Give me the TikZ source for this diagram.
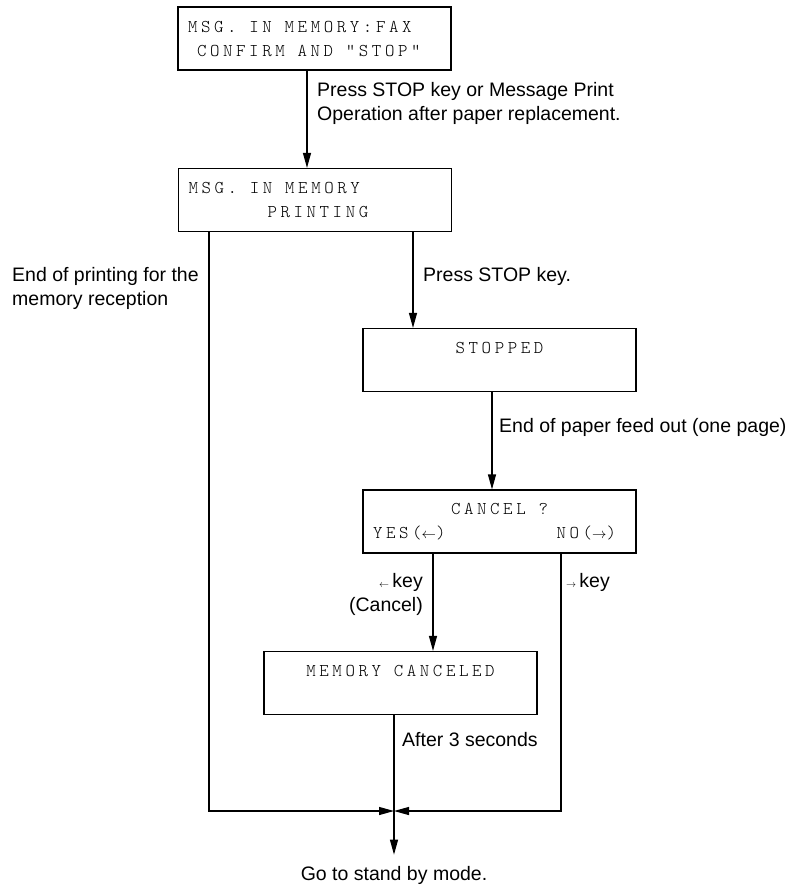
\documentclass[tikz,border=0pt]{standalone}
\usepackage{fontspec}
\setmainfont{Liberation Sans}
\newfontfamily\lcdfont{lmmonolt10-regular.otf}[LetterSpace=20]
\usetikzlibrary{arrows.meta}
\newcommand\lar{{\fontsize{10}{10}\selectfont$\leftarrow$}}
\newcommand\rar{{\fontsize{10}{10}\selectfont$\rightarrow$}}
\newcommand\lcdlar{{\fontsize{14}{14}\selectfont$\leftarrow$}}
\newcommand\lcdrar{{\fontsize{14}{14}\selectfont$\rightarrow$}}
\newcommand\lsp{\hspace*{12.8pt}}
\tikzset{
  lcdbox/.style={draw, line width=1.2pt, minimum width=273pt, minimum height=63pt,
    inner xsep=10pt, text width=253pt, font=\fontsize{18}{24}\lcdfont},
  note/.style={font=\fontsize{19.5}{24}\selectfont, inner sep=0pt},
  flow/.style={line width=1.2pt, -{Triangle[length=15pt,width=8pt]}}
}
\begin{document}
\begin{tikzpicture}[x=1pt,y=-1pt]
  \useasboundingbox (0,0) rectangle (793,887);
  % display boxes
  \node[lcdbox, align=left]   (msgfax)   at (314.5,38.5) {MSG.\lsp IN\lsp MEMORY:FAX\\\hspace*{9pt}CONFIRM\lsp AND\lsp "STOP"};
  \node[lcdbox, align=left]   (printing) at (315,200)    {MSG.\lsp IN\lsp MEMORY\\\hspace*{79pt}PRINTING};
  \node[lcdbox, align=center] (stopped)  at (499.5,360)  {STOPPED\\~};
  \node[lcdbox, align=center] (cancel)   at (499.5,521.5) {CANCEL\lsp ?\\\hbox to 253pt{YES(\lcdlar)\hfill NO(\lcdrar)\hspace{10pt}}};
  \node[lcdbox, align=center] (canceled) at (400.5,683)  {MEMORY\lsp CANCELED\\~};
  \coordinate (merge) at (394,811);
  \node[note, anchor=base, inner ysep=11pt] (standby) at (394,880) {Go to stand by mode.};
  % labels
  \node[note, anchor=west, align=left]  (presskey) at (317,103.5) {Press STOP key or Message Print\\Operation after paper replacement.};
  \node[note, anchor=west, align=left]  (endprint) at (12,288)    {End of printing for the\\memory reception};
  \node[note, anchor=west]              (pressstop) at (423,276)  {Press STOP key.};
  \node[note, anchor=west]              (feedout)  at (499,427)   {End of paper feed out (one page)};
  \node[note, anchor=east, align=right] (yeskey)   at (423,594.5) {\lar\,key\\(Cancel)};
  \node[note, anchor=west]              (nokey)    at (566,582)   {\rar\,key};
  \node[note, anchor=west]              (after3)   at (402,740)   {After 3 seconds};
  % connectors
  \draw[flow] ([xshift=-7.5pt]msgfax.south) -- ([xshift=-7.5pt]msgfax.south |- printing.north);
  \draw[flow] ([xshift=98pt]printing.south) -- ([xshift=98pt]printing.south |- stopped.north);
  \draw[flow] ([xshift=-7.5pt]stopped.south) -- ([xshift=-7.5pt]cancel.north);
  \draw[flow] ([xshift=-66.5pt]cancel.south) -- ([xshift=-66.5pt]cancel.south |- canceled.north);
  \draw[flow] ([xshift=-106pt]printing.south) |- (merge);
  \draw[flow] ([xshift=61.5pt]cancel.south) |- (merge);
  \draw[flow] (canceled.south -| merge) -- (standby.north);
\end{tikzpicture}
\end{document}
